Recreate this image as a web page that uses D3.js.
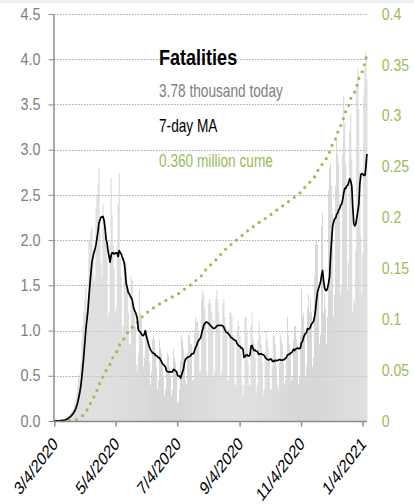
<!DOCTYPE html>
<html>
<head>
<meta charset="utf-8">
<script src="https://cdn.jsdelivr.net/npm/d3@7"></script>
<style>
  body { margin: 0; background: #fff; }
  svg text { font-family: "Liberation Sans", Arial, sans-serif; }
</style>
</head>
<body>
<svg id="chart" width="414" height="504"></svg>
<script>
// daily US fatalities, thousands, one value per day starting 3/4/2020
const startDate = "3/4/2020";
const dailyDeaths = [
  // Mar
  0.002, 0.003, 0.002, 0.005, 0.003, 0.004, 0.008,
  0.010, 0.013, 0.018, 0.022, 0.030, 0.040, 0.055,
  0.060, 0.070, 0.090, 0.110, 0.120, 0.150, 0.190,
  0.240, 0.300, 0.390, 0.470, 0.520, 0.640, 0.900,
  // Apr
  1.05, 1.20, 1.35, 1.50, 1.20, 1.35, 2.00,
  2.00, 2.10, 2.15, 1.90, 1.55, 1.60, 2.35,
  2.50, 2.63, 2.80, 2.15, 1.75, 1.60, 2.40,
  2.20, 2.05, 1.95, 1.80, 1.15, 1.20, 1.95,
  // May
  2.69, 2.28, 1.95, 1.70, 1.20, 1.25, 1.95,
  2.40, 2.74, 1.80, 1.60, 0.95, 1.05, 1.70,
  1.75, 1.75, 1.55, 1.20, 0.85, 0.85, 1.60,
  1.55, 1.30, 1.25, 1.05, 0.62, 0.55, 0.75,
  1.45, 1.20, 1.15, 0.90, 0.60, 0.70, 1.00,
  // Jun
  1.00, 0.95, 0.85, 0.65, 0.40, 0.55, 0.90,
  0.95, 0.90, 0.75, 0.60, 0.35, 0.45, 0.90,
  0.80, 0.75, 0.60, 0.50, 0.28, 0.35, 0.60,
  0.75, 0.72, 0.60, 0.50, 0.28, 0.35, 0.80,
  // Jul
  0.70, 0.65, 0.55, 0.20, 0.22, 0.35, 0.65,
  0.95, 0.90, 0.80, 0.70, 0.45, 0.40, 0.75,
  0.95, 0.95, 0.85, 0.85, 0.45, 0.45, 1.00,
  1.15, 1.10, 1.10, 1.00, 0.55, 0.55, 1.35,
  1.45, 1.40, 1.25, 1.10, 0.55, 0.50, 1.30,
  // Aug
  1.35, 1.30, 1.20, 1.00, 0.50, 0.55, 1.35,
  1.45, 1.35, 1.20, 1.00, 0.50, 0.55, 1.30,
  1.35, 1.15, 1.05, 0.95, 0.45, 0.45, 1.20,
  1.20, 1.15, 0.95, 0.90, 0.40, 0.40, 1.00,
  // Sep
  1.10, 1.05, 0.95, 0.75, 0.40, 0.28, 0.40,
  1.15, 1.15, 1.00, 0.65, 0.40, 0.40, 1.05,
  1.20, 0.90, 0.85, 0.70, 0.30, 0.40, 0.90,
  1.10, 0.95, 0.85, 0.65, 0.28, 0.35, 0.75,
  // Oct
  1.00, 0.90, 0.80, 0.65, 0.35, 0.35, 0.60,
  0.95, 0.95, 0.85, 0.60, 0.40, 0.35, 0.65,
  0.95, 0.90, 0.85, 0.65, 0.40, 0.45, 0.70,
  1.15, 0.95, 0.85, 0.75, 0.45, 0.50, 0.90,
  1.05, 1.05, 0.90, 0.80, 0.40, 0.50, 0.95,
  // Nov
  1.45, 1.15, 1.20, 1.00, 0.50, 0.60, 1.25,
  1.40, 1.20, 1.35, 1.20, 0.60, 0.70, 1.60,
  1.95, 2.00, 1.95, 1.45, 0.85, 0.95, 2.15,
  2.30, 1.20, 1.40, 1.25, 0.85, 1.15, 2.55,
  // Dec
  2.80, 2.85, 2.60, 2.30, 1.15, 1.40, 2.60,
  3.10, 2.95, 2.85, 2.40, 1.40, 1.50, 2.95,
  3.60, 3.30, 2.85, 2.60, 1.45, 1.75, 3.20,
  3.40, 2.90, 1.20, 1.35, 1.30, 1.90, 3.70,
  3.90, 3.45, 2.75, 2.05, 1.40, 1.85, 3.60,
  // Jan
  3.90, 4.08, 3.78
];

const leftTicks = [0, 0.5, 1, 1.5, 2, 2.5, 3, 3.5, 4, 4.5];
const rightTicks = [0, 0.05, 0.1, 0.15, 0.2, 0.25, 0.3, 0.35, 0.4];
const rightTickLabels = ["0", "0.05", "0.1", "0.15", "0.2", "0.25", "0.3", "0.35", "0.4"];
const dateTicks = ["3/4/2020", "5/4/2020", "7/4/2020", "9/4/2020", "11/4/2020", "1/4/2021"];

const titleText = "Fatalities";
const todayText = "3.78 thousand today";
const maText = "7-day MA";
const cumeText = "0.360 million cume";

const GREEN = "#9bbb59";
const GREY = "#808080";

const svg = d3.select("#chart");
const m = { left: 54, right: 367, top: 14, bottom: 421 };

const parseDate = d3.timeParse("%m/%d/%Y");
const start = parseDate(startDate);
const rows = dailyDeaths.map((v, i) => ({ date: d3.timeDay.offset(start, i), value: v }));

// trailing 7-day mean and running total (millions)
let total = 0;
rows.forEach((d, i) => {
  d.ma = d3.mean(dailyDeaths.slice(Math.max(0, i - 6), i + 1));
  total += d.value;
  d.cume = total / 1000;
});

const last = rows[rows.length - 1].date;
const x = d3.scaleTime()
  .domain([start, d3.timeHour.offset(last, 12)])
  .range([m.left + 0.3, m.right]);
const y = d3.scaleLinear().domain([0, 4.5]).range([m.bottom, m.top]);
const y2 = d3.scaleLinear().domain([0, 0.4]).range([m.bottom, m.top]);
const step = x(d3.timeDay.offset(start, 1)) - x(start);

// faint band at top edge
svg.append("rect").attr("x", 0).attr("y", 0).attr("width", 414).attr("height", 3).attr("fill", "#efefef");

// grid
svg.append("g")
  .selectAll("line")
  .data(leftTicks.filter((t) => t > 0))
  .join("line")
  .attr("x1", m.left)
  .attr("x2", m.right)
  .attr("y1", (d) => Math.round(y(d)) + 0.5)
  .attr("y2", (d) => Math.round(y(d)) + 0.5)
  .attr("stroke", "#a6a6a6")
  .attr("stroke-width", 1)
  .attr("stroke-dasharray", "1.5,1.5");

// daily bars
svg.append("g")
  .selectAll("rect")
  .data(rows)
  .join("rect")
  .attr("x", (d) => x(d.date))
  .attr("width", step * 0.8)
  .attr("y", (d) => y(d.value))
  .attr("height", (d) => y(0) - y(d.value))
  .attr("fill", "#cecece");

// cumulative, dotted green
svg.append("path")
  .datum(rows)
  .attr("fill", "none")
  .attr("stroke", GREEN)
  .attr("stroke-width", 3.2)
  .attr("stroke-linecap", "round")
  .attr("stroke-dasharray", "0,7.3")
  .attr("d", d3.line().x((d) => x(d.date) + step * 0.4).y((d) => y2(d.cume)));

// 7-day MA
svg.append("path")
  .datum(rows)
  .attr("fill", "none")
  .attr("stroke", "#000")
  .attr("stroke-width", 1.7)
  .attr("stroke-linejoin", "round")
  .attr("d", d3.line().x((d) => x(d.date) + step * 0.4).y((d) => y(d.ma)));

// left axis
const gl = svg.append("g")
  .attr("transform", `translate(${m.left - 0.5},0)`)
  .call(d3.axisLeft(y).tickValues(leftTicks).tickFormat(d3.format(".1f")).tickSize(5).tickSizeOuter(0));
gl.select(".domain").attr("stroke", "#8c8c8c").attr("stroke-width", 1.5);
gl.selectAll(".tick line").attr("stroke", "#8c8c8c");
gl.selectAll(".tick text")
  .attr("fill", GREY)
  .attr("font-size", 16)
  .attr("x", -14.4)
  .attr("transform", "scale(0.9,1)");

// right axis
const gr = svg.append("g")
  .attr("transform", `translate(${m.right},0)`)
  .call(d3.axisRight(y2).tickValues(rightTicks).tickFormat((d, i) => rightTickLabels[i]).tickSize(0).tickPadding(0));
gr.select(".domain").remove();
gr.selectAll(".tick text")
  .attr("fill", GREEN)
  .attr("font-size", 16)
  .attr("x", 14.7 / 0.88)
  .attr("transform", "scale(0.88,1)");

// bottom axis
const gb = svg.append("g")
  .attr("transform", `translate(0,${m.bottom + 0.5})`)
  .call(d3.axisBottom(x).tickValues(dateTicks.map(parseDate)).tickFormat((d, i) => dateTicks[i]).tickSize(5).tickSizeOuter(0));
gb.select(".domain").attr("stroke", "#8c8c8c").attr("stroke-width", 1.5).attr("d", `M${m.left},0H${m.right}`);
gb.selectAll(".tick line").attr("stroke", "#8c8c8c").attr("stroke-width", 1.5);
gb.selectAll(".tick text")
  .attr("fill", "#000")
  .attr("font-size", 18.5)
  .attr("x", 0)
  .attr("y", 0)
  .attr("dy", 0)
  .attr("text-anchor", "end")
  .attr("transform", "translate(4,23.5) scale(0.76,1) rotate(-45)");

// legend block
const legend = [
  { text: titleText, y: 64.5, size: 22, weight: "bold", color: "#000", sx: 0.82 },
  { text: todayText, y: 97, size: 18, weight: "normal", color: GREY, sx: 0.76 },
  { text: maText, y: 131.5, size: 18, weight: "normal", color: "#000", sx: 0.76 },
  { text: cumeText, y: 166.5, size: 18, weight: "normal", color: GREEN, sx: 0.76 },
];
svg.append("g")
  .selectAll("text")
  .data(legend)
  .join("text")
  .attr("transform", (d) => `translate(159,${d.y}) scale(${d.sx},1)`)
  .attr("font-size", (d) => d.size)
  .attr("font-weight", (d) => d.weight)
  .attr("fill", (d) => d.color)
  .text((d) => d.text);
</script>
</body>
</html>
